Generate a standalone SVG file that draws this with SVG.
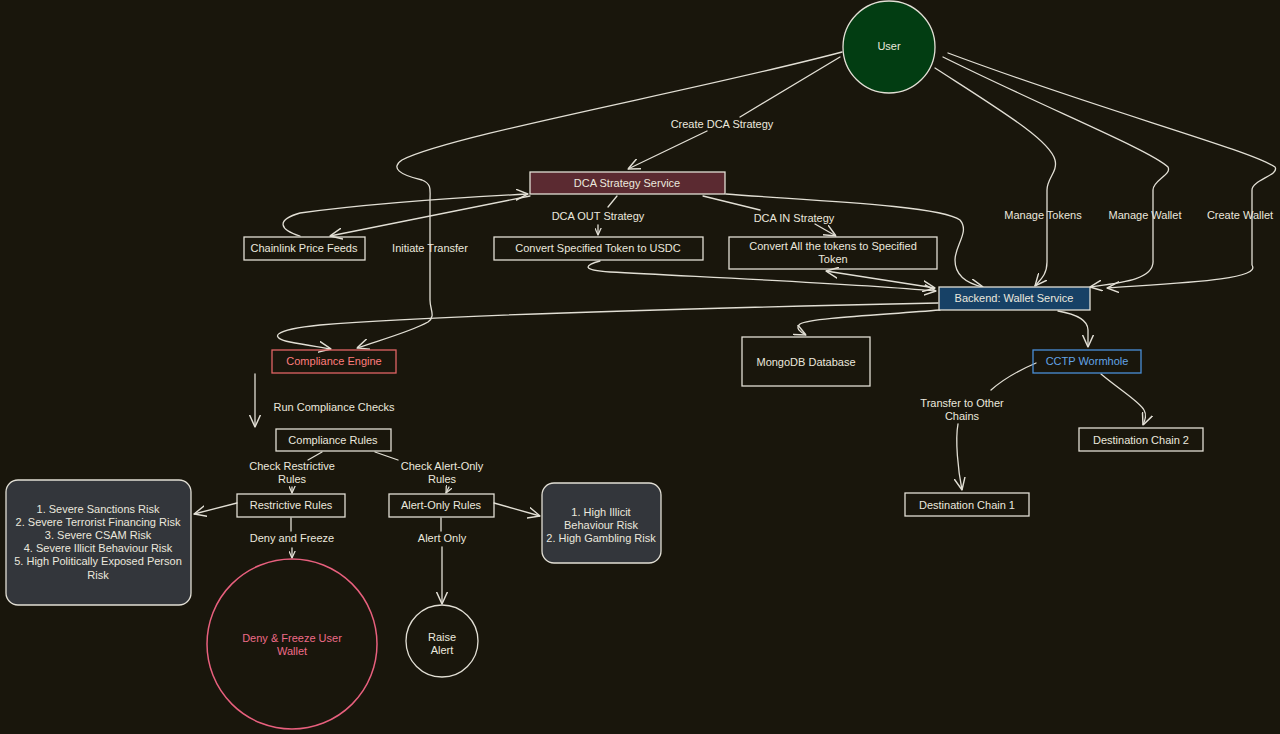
<svg xmlns="http://www.w3.org/2000/svg" width="1280" height="734" viewBox="0 0 1280 734">
<defs>
<style>
.t{font-family:"Liberation Sans",Arial,sans-serif;font-size:11px;fill:#ebe8de;text-anchor:middle;dominant-baseline:central}
.box{fill:none;stroke:#e2dfd5;stroke-width:1.3}
.c{fill:none;stroke:#e2dfd5;stroke-width:1.3;stroke-linecap:round;stroke-linejoin:round}
.a{marker-end:url(#ah)}
.s{marker-end:url(#ahs)}
.b{marker-start:url(#ah);marker-end:url(#ah)}
</style>
<marker id="ah" viewBox="0 0 10 10" refX="10" refY="5" markerWidth="12" markerHeight="12" markerUnits="userSpaceOnUse" orient="auto-start-reverse">
<path d="M0,0.5 L10,5 L0,9.5" fill="none" stroke="#e2dfd5" stroke-width="1.2" stroke-linecap="round"/>
</marker>
<marker id="ahs" viewBox="0 0 10 10" refX="10" refY="5" markerWidth="7" markerHeight="7" markerUnits="userSpaceOnUse" orient="auto">
<path d="M0,0.5 L10,5 L0,9.5" fill="none" stroke="#e2dfd5" stroke-width="1.8" stroke-linecap="round"/>
</marker>
</defs>
<rect width="1280" height="734" fill="#19160c"/>

<g id="connectors">
<path class="c" d="M840,57 L740,117"/>
<path class="c a" d="M707,131 L628,169"/>
<path class="c a" d="M842,52 C700,90 450,135 402,160 C390,168 400,175 422,180 C432,184 430,190 430,200 L430,300 C430,310 436,316 428,322 C410,332 380,340 357,348"/>
<path class="c a" d="M938,303 C700,308 430,316 320,325 C270,330 270,338 290,342 C305,345 320,347 331,349"/>
<path class="c a" d="M300,236 C280,230 275,220 300,213 C360,205 450,198 528,194"/>
<path class="c a" d="M530,196 L330,236"/>
<path class="c" d="M617,196 L608,207"/>
<path class="c s" d="M598,225 L598,235"/>
<path class="c" d="M703,196 L760,210"/>
<path class="c a" d="M815,224 L836,236"/>
<path class="c a" d="M726,194 C800,200 940,205 960,220 C970,232 955,245 955,260 C955,275 965,283 983,287"/>
<path class="c a" d="M600,261 C585,265 580,270 610,272 C700,277 850,283 936,291"/>
<path class="c b" d="M826,271 L935,288"/>
<path class="c a" d="M935,68 C1000,110 1050,140 1055,160 C1058,172 1047,178 1047,190 L1047,262 C1047,275 1040,280 1035,286"/>
<path class="c a" d="M943,57 C1050,110 1150,150 1168,167 C1172,175 1153,180 1153,190 L1153,260 C1155,280 1120,283 1090,287"/>
<path class="c a" d="M948,53 C1100,110 1250,150 1275,167 C1280,175 1252,180 1252,190 L1252,265 C1262,280 1180,283 1107,288"/>
<path class="c a" d="M940,310 C880,315 810,318 800,324 C795,328 800,332 806,335"/>
<path class="c a" d="M1058,311 C1075,314 1088,320 1088,330 L1088,347"/>
<path class="c" d="M1036,363 C1015,372 1000,382 991,390"/>
<path class="c a" d="M958,424 C955,440 958,470 962,490"/>
<path class="c a" d="M1101,374 C1120,390 1140,402 1144,410 C1147,415 1145,420 1143,425"/>
<path class="c a" d="M255,374 L255,427"/>
<path class="c" d="M322,452 L308,460"/>
<path class="c s" d="M292,487 L292,493"/>
<path class="c" d="M375,452 L398,460"/>
<path class="c s" d="M449,487 L446,493"/>
<path class="c a" d="M237,503 L194,514"/>
<path class="c a" d="M494,503 L540,516"/>
<path class="c" d="M291,518 L291,531"/>
<path class="c s" d="M292,548 L292,558"/>
<path class="c" d="M441,518 L441,531"/>
<path class="c a" d="M442,547 L442,604"/>

<text class="t" x="722" y="124">Create DCA Strategy</text>
<text class="t" x="430" y="248">Initiate Transfer</text>
<text class="t" x="598" y="216">DCA OUT Strategy</text>
<text class="t" x="794" y="218">DCA IN Strategy</text>
<text class="t" x="1043" y="215">Manage Tokens</text>
<text class="t" x="1145" y="215">Manage Wallet</text>
<text class="t" x="1240" y="215">Create Wallet</text>
<text class="t" x="334" y="407">Run Compliance Checks</text>
<text class="t" x="292" y="466">Check Restrictive</text>
<text class="t" x="292" y="479">Rules</text>
<text class="t" x="442" y="466">Check Alert-Only</text>
<text class="t" x="442" y="479">Rules</text>
<text class="t" x="292" y="538">Deny and Freeze</text>
<text class="t" x="442" y="538">Alert Only</text>
<text class="t" x="962" y="403">Transfer to Other</text>
<text class="t" x="962" y="416">Chains</text>
</g>

<g id="user">
<circle cx="889" cy="47" r="46" fill="#023d12" stroke="#e2dfd5" stroke-width="1.3"/>
<text class="t" x="889" y="46">User</text>
</g>
<g id="dca-service">
<rect x="530" y="172" width="195" height="22" fill="#5b2a31" stroke="#e2dfd5" stroke-width="1.3"/>
<text class="t" x="627" y="183">DCA Strategy Service</text>
</g>
<g id="chainlink">
<rect class="box" x="244" y="237" width="121" height="23"/>
<text class="t" x="304" y="248">Chainlink Price Feeds</text>
</g>
<g id="convert-usdc">
<rect class="box" x="494" y="237" width="209" height="23"/>
<text class="t" x="598" y="248">Convert Specified Token to USDC</text>
</g>
<g id="convert-all">
<rect class="box" x="729" y="237" width="208" height="32"/>
<text class="t" x="833" y="246">Convert All the tokens to Specified</text>
<text class="t" x="833" y="259">Token</text>
</g>
<g id="backend">
<rect x="939" y="287" width="151" height="23" fill="#174166" stroke="#e2dfd5" stroke-width="1.3"/>
<text class="t" x="1014" y="298">Backend: Wallet Service</text>
</g>
<g id="compliance-engine">
<rect x="272" y="350" width="124" height="23" fill="none" stroke="#e06464" stroke-width="1.3"/>
<text class="t" x="334" y="361" style="fill:#ff7d7d">Compliance Engine</text>
</g>
<g id="mongodb">
<rect class="box" x="742" y="337" width="128" height="49"/>
<text class="t" x="806" y="362">MongoDB Database</text>
</g>
<g id="cctp">
<rect x="1033" y="350" width="108" height="23" fill="none" stroke="#4a8fd8" stroke-width="1.3"/>
<text class="t" x="1087" y="361" style="fill:#62a4e6">CCTP Wormhole</text>
</g>
<g id="dest2">
<rect class="box" x="1079" y="428" width="124" height="23"/>
<text class="t" x="1141" y="440">Destination Chain 2</text>
</g>
<g id="dest1">
<rect class="box" x="905" y="493" width="124" height="23"/>
<text class="t" x="967" y="505">Destination Chain 1</text>
</g>
<g id="compliance-rules">
<rect class="box" x="276" y="429" width="115" height="22"/>
<text class="t" x="333" y="440">Compliance Rules</text>
</g>
<g id="restrictive-rules">
<rect class="box" x="237" y="494" width="108" height="23"/>
<text class="t" x="291" y="505">Restrictive Rules</text>
</g>
<g id="alert-rules">
<rect class="box" x="389" y="494" width="105" height="23"/>
<text class="t" x="441" y="505">Alert-Only Rules</text>
</g>
<g id="restrictive-list">
<rect x="6" y="480" width="185" height="125" rx="12" fill="#33363b" stroke="#e2dfd5" stroke-width="1.3"/>
<text class="t" x="98" y="509">1. Severe Sanctions Risk</text>
<text class="t" x="98" y="522">2. Severe Terrorist Financing Risk</text>
<text class="t" x="98" y="535">3. Severe CSAM Risk</text>
<text class="t" x="98" y="548">4. Severe Illicit Behaviour Risk</text>
<text class="t" x="98" y="561">5. High Politically Exposed Person</text>
<text class="t" x="98" y="575">Risk</text>
</g>
<g id="alert-list">
<rect x="542" y="483" width="119" height="80" rx="12" fill="#33363b" stroke="#e2dfd5" stroke-width="1.3"/>
<text class="t" x="601" y="512">1. High Illicit</text>
<text class="t" x="601" y="525">Behaviour Risk</text>
<text class="t" x="601" y="538">2. High Gambling Risk</text>
</g>
<g id="deny-freeze">
<circle cx="292" cy="644" r="85" fill="none" stroke="#e8607e" stroke-width="1.5"/>
<text class="t" x="292" y="638" style="fill:#ee6b88">Deny &amp; Freeze User</text>
<text class="t" x="292" y="651" style="fill:#ee6b88">Wallet</text>
</g>
<g id="raise-alert">
<circle cx="442" cy="641" r="36" fill="none" stroke="#e2dfd5" stroke-width="1.3"/>
<text class="t" x="442" y="637">Raise</text>
<text class="t" x="442" y="650">Alert</text>
</g>
</svg>
